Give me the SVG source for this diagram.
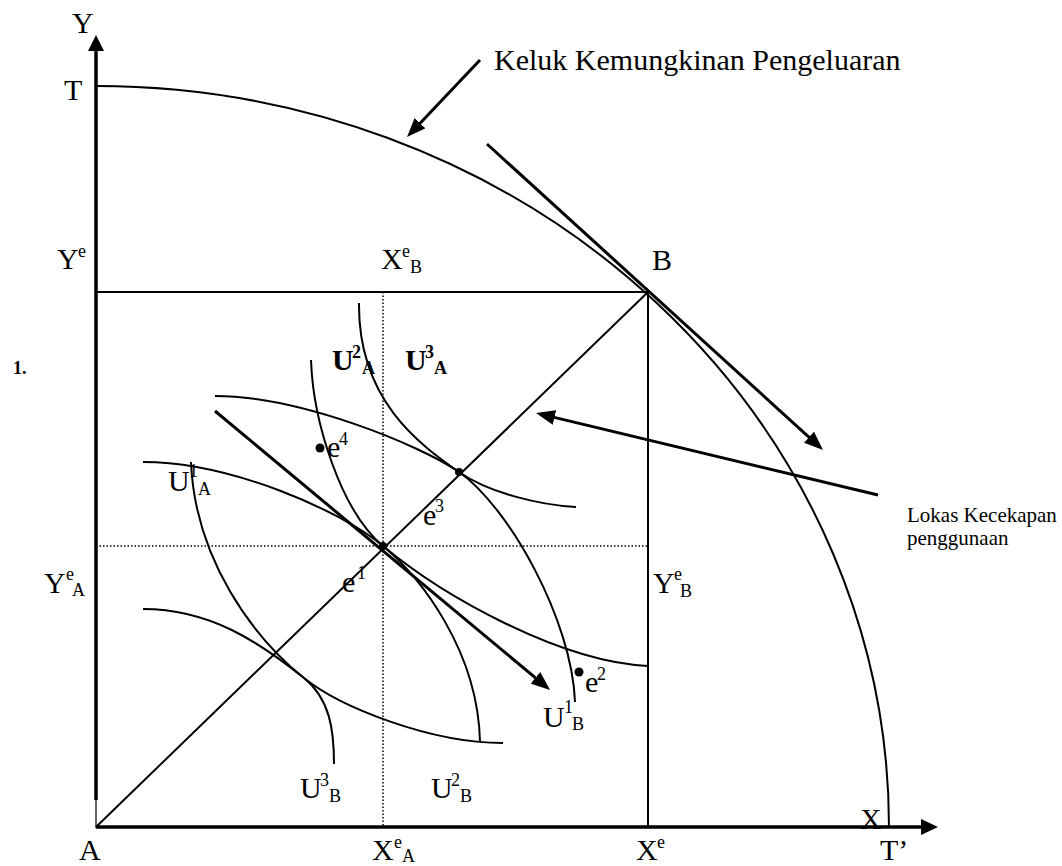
<svg xmlns="http://www.w3.org/2000/svg" width="1062" height="866" viewBox="0 0 1062 866">
<defs>
<style>
.ln{fill:none;stroke:#000;stroke-width:2}
.th{fill:none;stroke:#000;stroke-width:3}
.ax{fill:none;stroke:#000;stroke-width:3.5}
.dt{fill:none;stroke:#000;stroke-width:1.5;stroke-dasharray:1.5 2}
.cv{fill:none;stroke:#000;stroke-width:2}
text{font-family:"Liberation Serif","Times New Roman",serif;fill:#000}
.L{font-size:30px}
.s{font-size:18px}
.b{font-weight:bold}
.sm{font-size:21px}
</style>
<marker id="ah" markerWidth="19" markerHeight="15" refX="11" refY="7.5" orient="auto" markerUnits="userSpaceOnUse">
<path d="M0,0 L19,7.5 L0,15 z" fill="#000"/>
</marker>
</defs>
<rect width="1062" height="866" fill="#fff"/>

<g id="axes">
<line class="ax" x1="96" y1="800" x2="96" y2="50"/>
<line x1="96" y1="800" x2="96" y2="828" stroke="#000" stroke-width="1.2"/>
<polygon points="96,35 88,51 104,51" fill="#000"/>
<line class="ax" x1="96" y1="827" x2="922" y2="827"/>
<polygon points="938,827 921,819 921,835" fill="#000"/>
</g>

<g id="ppf">
<path class="ln" d="M96,86 A793,741 0 0 1 889,827"/>
</g>

<g id="box">
<line class="ln" x1="96" y1="292" x2="648" y2="292"/>
<line class="ln" x1="648" y1="292" x2="648" y2="827"/>
<line class="ln" x1="96" y1="827" x2="648" y2="292"/>
<line class="dt" x1="383" y1="292" x2="383" y2="827"/>
<line class="dt" x1="96" y1="546" x2="648" y2="546"/>
</g>

<g id="curves">
<path id="U2A" class="cv" d="M311,360 C313,420 340,510 383,546 C443,596 560,662 648,666"/>
<path id="U3A" class="cv" d="M359,303 C358,400 419,444 459,472 C489,493 540,505 576,507"/>
<path id="U1B" class="cv" d="M215,396 C300,396 420,445 459,472 C509,507 572,620 575,702"/>
<path id="U2B" class="cv" d="M143,462 C230,462 340,510 383,546 C420,577 478,650 480,742"/>
<path id="U1A" class="cv" d="M191,462 C195,560 254,638 304,678 C340,707 430,743 503,743"/>
<path id="U3B" class="cv" d="M143,609 C210,609 259,642 304,678 C330,699 334,730 334,764"/>
</g>

<g id="connectors">
<line class="th" x1="480" y1="60" x2="412.5" y2="131.2" marker-end="url(#ah)"/>
<line class="th" x1="487" y1="144" x2="817.1" y2="444.6" marker-end="url(#ah)"/>
<line class="th" x1="215" y1="411" x2="543.9" y2="684.9" marker-end="url(#ah)"/>
<line class="th" x1="878" y1="495" x2="543.8" y2="414.9" marker-end="url(#ah)"/>
</g>

<g id="points">
<circle cx="383" cy="546" r="4"/>
<circle cx="459" cy="472" r="4"/>
<circle cx="320" cy="448" r="4.5"/>
<circle cx="579" cy="672" r="4.5"/>
</g>

<g id="labels">
<text class="L" x="72" y="33">Y</text>
<text class="L" x="64" y="100">T</text>
<text class="L" x="57" y="269">Y<tspan class="s" x="78" y="257">e</tspan></text>
<text class="L" x="381" y="269">X<tspan class="s" x="402" y="257">e</tspan><tspan class="s" x="410" y="273">B</tspan></text>
<text class="L" x="652" y="270">B</text>
<text class="b" x="13" y="374" font-size="18">1.</text>
<text class="L b" x="332" y="370">U<tspan class="s" x="352" y="358">2</tspan><tspan class="s" x="362" y="374">A</tspan></text>
<text class="L b" x="405" y="370">U<tspan class="s" x="425" y="358">3</tspan><tspan class="s" x="434" y="374">A</tspan></text>
<text class="L" x="168" y="491">U<tspan class="s" x="189" y="477">1</tspan><tspan class="s" x="198" y="495">A</tspan></text>
<text class="L" x="327" y="457">e<tspan class="s" x="339" y="445">4</tspan></text>
<text class="L" x="423" y="525">e<tspan class="s" x="435" y="512">3</tspan></text>
<text class="L" x="342" y="592">e<tspan class="s" x="357" y="579">1</tspan></text>
<text class="L" x="44" y="593">Y<tspan class="s" x="66" y="580">e</tspan><tspan class="s" x="72" y="596">A</tspan></text>
<text class="L" x="653" y="593">Y<tspan class="s" x="674" y="580">e</tspan><tspan class="s" x="680" y="597">B</tspan></text>
<text class="L" x="585" y="692">e<tspan class="s" x="597" y="680">2</tspan></text>
<text class="L" x="543" y="727">U<tspan class="s" x="564" y="713">1</tspan><tspan class="s" x="572" y="730">B</tspan></text>
<text class="L" x="300" y="798">U<tspan class="s" x="320" y="786">3</tspan><tspan class="s" x="329" y="802">B</tspan></text>
<text class="L" x="431" y="798">U<tspan class="s" x="451" y="786">2</tspan><tspan class="s" x="460" y="802">B</tspan></text>
<text class="L" x="79" y="860">A</text>
<text class="L" x="372" y="860">X<tspan class="s" x="394" y="848">e</tspan><tspan class="s" x="402" y="862">A</tspan></text>
<text class="L" x="636" y="860">X<tspan class="s" x="657" y="848">e</tspan></text>
<text class="L" x="880" y="860">T’</text>
<text class="L" x="860" y="829">X</text>
<text class="L" x="494" y="70">Keluk Kemungkinan Pengeluaran</text>
<text class="sm" x="907" y="522">Lokas Kecekapan</text>
<text class="sm" x="907" y="545">penggunaan</text>
</g>
</svg>
